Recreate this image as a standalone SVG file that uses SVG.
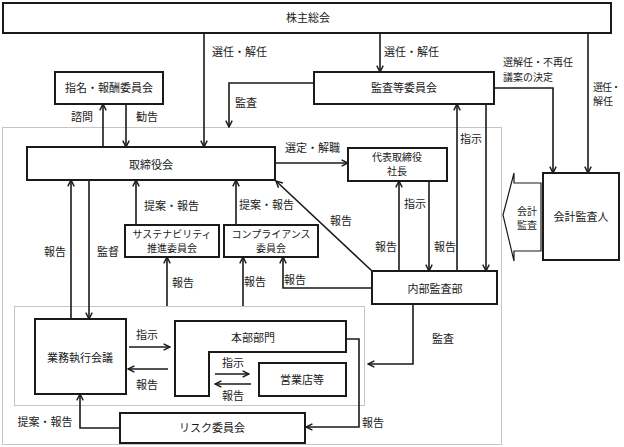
<svg xmlns="http://www.w3.org/2000/svg" width="624" height="447" viewBox="0 0 624 447">
<defs>
<style>
.box{fill:#fff;stroke:#1a1a1a;stroke-width:2}
.dot{fill:none;stroke:#8a8a8a;stroke-width:1;stroke-dasharray:1 1}
.ln{fill:none;stroke:#1a1a1a;stroke-width:1.6}
.arr{marker-end:url(#ah)}
text{font-family:"Noto Sans CJK JP","Noto Sans",sans-serif;font-size:11px;fill:#1a1a1a}
.c{text-anchor:middle}
.s{font-size:10px}
</style>
<marker id="ah" viewBox="0 0 10 10" refX="9" refY="5" markerWidth="8" markerHeight="8" markerUnits="userSpaceOnUse" orient="auto">
<path d="M1,1 L9,5 L1,9" fill="none" stroke="#1a1a1a" stroke-width="1.8"/>
</marker>
</defs>
<rect width="624" height="447" fill="#fff"/>

<g id="areas">
<rect class="dot" x="2.5" y="127.5" width="499" height="317"/>
<rect class="dot" x="14.5" y="306.5" width="350" height="99"/>
</g>

<g id="connectors">
<path class="ln arr" d="M204,34 V147"/>
<path class="ln arr" d="M380,34 V72"/>
<path class="ln arr" d="M588,34 V173"/>
<path class="ln arr" d="M494,88 H553 V173"/>
<path class="ln arr" d="M314,83 H229 V127"/>
<path class="ln arr" d="M103,147 V104"/>
<path class="ln arr" d="M126,104 V147"/>
<path class="ln arr" d="M275,163 H348"/>
<path class="ln arr" d="M457,271 V104"/>
<path class="ln arr" d="M486,104 V271"/>
<path class="ln arr" d="M399,271 V181"/>
<path class="ln arr" d="M429,181 V271"/>
<path class="ln arr" d="M372,271 L276,181"/>
<path class="ln arr" d="M372,288 H283 V257"/>
<path class="ln arr" d="M71,319 V180"/>
<path class="ln arr" d="M89,180 V319"/>
<path class="ln arr" d="M136,225 V180"/>
<path class="ln arr" d="M236,225 V180"/>
<path class="ln arr" d="M167,306 V257"/>
<path class="ln arr" d="M243,306 V257"/>
<path class="ln arr" d="M129,347 H170"/>
<path class="ln arr" d="M168,369 H128"/>
<path class="ln arr" d="M215,374 H249"/>
<path class="ln arr" d="M251,384 H215"/>
<path class="ln arr" d="M346,339 H359 V427 H306"/>
<path class="ln arr" d="M413,304 V364 H368"/>
<path class="ln arr" d="M120,428 H80 V394"/>
</g>

<g id="labels">
<text x="212" y="56">選任・解任</text>
<text x="384" y="56">選任・解任</text>
<text class="s" x="503" y="66">選解任・不再任</text>
<text class="s" x="503" y="81">議案の決定</text>
<text class="s" x="593" y="91" letter-spacing="-1">選任・</text>
<text class="s" x="593" y="105">解任</text>
<text x="235" y="107">監査</text>
<text class="c" x="82" y="121">諮問</text>
<text class="c" x="147" y="121">勧告</text>
<text class="c" x="471" y="143">指示</text>
<text x="285" y="152">選定・解職</text>
<text class="c" x="415" y="208">指示</text>
<text class="c" x="386" y="251">報告</text>
<text class="c" x="445" y="251">報告</text>
<text class="c" x="341" y="225">報告</text>
<text x="144" y="210">提案・報告</text>
<text x="239" y="209">提案・報告</text>
<text class="c" x="55" y="256">報告</text>
<text class="c" x="108" y="256">監督</text>
<text class="c" x="183" y="287">報告</text>
<text class="c" x="255" y="286">報告</text>
<text class="c" x="295" y="284">報告</text>
<text class="c" x="147" y="339">指示</text>
<text class="c" x="147" y="389">報告</text>
<text class="c" x="233" y="367">指示</text>
<text class="c" x="233" y="400">報告</text>
<text class="c" x="443" y="343">監査</text>
<text class="c" x="373" y="427">報告</text>
<text class="c" x="45" y="426">提案・報告</text>
</g>

<g id="n-kabunushi"><rect class="box" x="3" y="3" width="608" height="30"/><text class="c" x="308" y="22">株主総会</text></g>
<g id="n-shimei"><rect class="box" x="55" y="72" width="108" height="32"/><text class="c" x="109" y="92">指名・報酬委員会</text></g>
<g id="n-kansatou"><rect class="box" x="314" y="72" width="180" height="32"/><text class="c" x="404" y="92">監査等委員会</text></g>
<g id="n-torishimariyaku"><rect class="box" x="27" y="147" width="248" height="33"/><text class="c" x="151" y="169">取締役会</text></g>
<g id="n-daihyo"><rect class="box" x="348" y="148" width="99" height="33"/><text class="c s" x="397" y="161">代表取締役</text><text class="c s" x="397" y="175">社長</text></g>
<g id="n-sustain"><rect class="box" x="125" y="225" width="94" height="32"/><text class="c s" x="172" y="238">サステナビリティ</text><text class="c s" x="172" y="252">推進委員会</text></g>
<g id="n-compliance"><rect class="box" x="224" y="225" width="94" height="32"/><text class="c s" x="271" y="238">コンプライアンス</text><text class="c s" x="271" y="252">委員会</text></g>
<g id="n-naibu"><rect class="box" x="372" y="271" width="125" height="33"/><text class="c" x="435" y="293">内部監査部</text></g>
<g id="n-gyomu"><rect class="box" x="35" y="319" width="91" height="75"/><text class="c" x="80" y="362">業務執行会議</text></g>
<g id="n-honbu"><path class="box" d="M175,321 H346 V352 H209 V396 H175 Z"/><text class="c" x="253" y="342">本部部門</text></g>
<g id="n-eigyo"><rect class="box" x="259" y="363" width="87" height="33"/><text class="c" x="302" y="384">営業店等</text></g>
<g id="n-risk"><rect class="box" x="120" y="413" width="185" height="30"/><text class="c" x="212" y="432">リスク委員会</text></g>
<g id="n-kaikei"><rect class="box" x="543" y="173" width="76" height="87"/><text class="c" x="581" y="221">会計監査人</text></g>
<g id="n-kaikei-arrow"><path fill="#fff" stroke="#1a1a1a" stroke-width="1.2" d="M503,215 L514,173 V183 H541 V251 H514 V261 Z"/><text class="c s" x="527" y="215">会計</text><text class="c s" x="527" y="229">監査</text></g>
</svg>
